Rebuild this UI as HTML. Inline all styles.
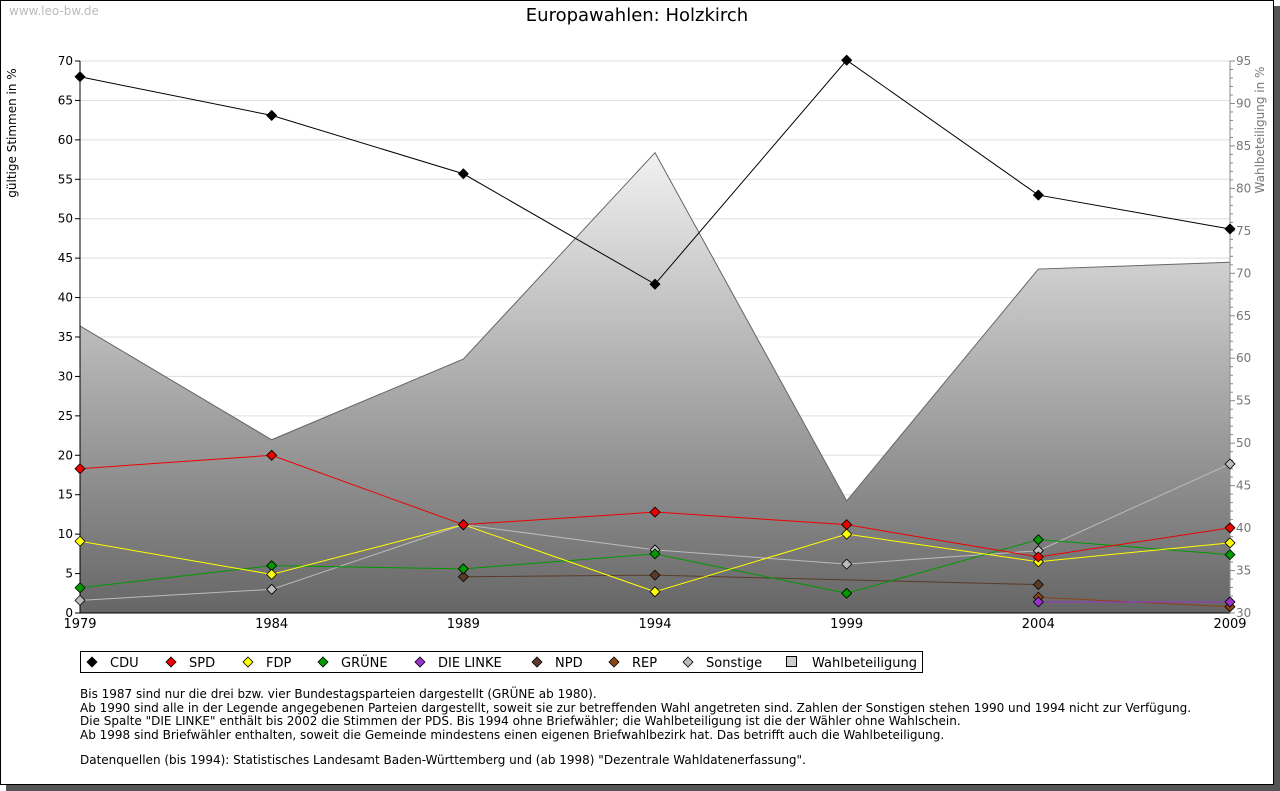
<!DOCTYPE html>
<html><head><meta charset="utf-8"><style>
body{margin:0;background:#fff;font-family:"DejaVu Sans","Liberation Sans",sans-serif}
svg{display:block}
</style></head><body>
<svg width="1280" height="791" xmlns="http://www.w3.org/2000/svg">
<defs><linearGradient id="g" gradientUnits="userSpaceOnUse" x1="0" y1="61" x2="0" y2="613"><stop offset="0" stop-color="#ffffff"/><stop offset="0.15" stop-color="#f4f4f4"/><stop offset="1" stop-color="#666"/></linearGradient></defs>
<rect x="6" y="6" width="1274" height="785" fill="#555"/>
<rect x="0.5" y="0.5" width="1273" height="784" fill="#fff" stroke="#000"/>
<text x="9" y="15" font-size="12" fill="#bbb">www.leo-bw.de</text>
<text x="637" y="21" font-size="18" text-anchor="middle">Europawahlen: Holzkirch</text>
<text transform="translate(16,133) rotate(-90)" font-size="12" text-anchor="middle">gültige Stimmen in %</text>
<text transform="translate(1264,130) rotate(-90)" font-size="12" fill="#777" text-anchor="middle">Wahlbeteiligung in %</text>
<g id="grid"></g><g id="area"></g><g id="axes"></g><g id="series"></g>
<g>
<rect x="80.5" y="651.5" width="842" height="21" fill="#fff" stroke="#000"/>
<g id="legend"></g>
</g>
<g font-size="12">
<text x="80" y="698">Bis 1987 sind nur die drei bzw. vier Bundestagsparteien dargestellt (GRÜNE ab 1980).</text>
<text x="80" y="712">Ab 1990 sind alle in der Legende angegebenen Parteien dargestellt, soweit sie zur betreffenden Wahl angetreten sind. Zahlen der Sonstigen stehen 1990 und 1994 nicht zur Verfügung.</text>
<text x="80" y="725">Die Spalte "DIE LINKE" enthält bis 2002 die Stimmen der PDS. Bis 1994 ohne Briefwähler; die Wahlbeteiligung ist die der Wähler ohne Wahlschein.</text>
<text x="80" y="739">Ab 1998 sind Briefwähler enthalten, soweit die Gemeinde mindestens einen eigenen Briefwahlbezirk hat. Das betrifft auch die Wahlbeteiligung.</text>
<text x="80" y="764">Datenquellen (bis 1994): Statistisches Landesamt Baden-Württemberg und (ab 1998) "Dezentrale Wahldatenerfassung".</text>
</g>
</svg>
<script>
const years=[1979,1984,1989,1994,1999,2004,2009];
const leftTicks=[0,5,10,15,20,25,30,35,40,45,50,55,60,65,70];
const rightTicks=[30,35,40,45,50,55,60,65,70,75,80,85,90,95];
const turnout=[63.8,50.4,59.9,84.2,43.2,70.5,71.3];
const cdu=[68.0,63.1,55.7,41.7,70.1,53.0,48.7];
const spd=[18.3,20.0,11.2,12.8,11.2,7.1,10.8];
const fdp=[9.1,4.9,11.2,2.7,10.0,6.5,8.9];
const gruene=[3.2,6.0,5.6,7.5,2.5,9.3,7.4];
const linke=[null,null,null,null,null,1.4,1.4];
const npd=[null,null,4.6,4.8,null,3.6,null];
const rep=[null,null,null,null,null,2.0,0.8];
const sonstige=[1.6,3.0,11.2,8.0,6.2,7.9,18.9];
const seriesNames=["CDU","SPD","FDP","GRÜNE","DIE LINKE","NPD","REP","Sonstige"];
const seriesColors=["#000","#e00","#ff0","#090","#93c","#5a3a28","#8b4513","#bbb"];
const seriesData=[cdu,spd,fdp,gruene,linke,npd,rep,sonstige];
const NS="http://www.w3.org/2000/svg";
const X0=80,X1=1230,Y0=613,Y1=61;
const x=v=>X0+(v-1979)/(2009-1979)*(X1-X0);
const y=v=>Y0-v/70*(Y0-Y1);
const y2=v=>Y0-(v-30)/65*(Y0-Y1);
function mk(tag,attrs,parent,txt){const e=document.createElementNS(NS,tag);for(const k in attrs)e.setAttribute(k,attrs[k]);if(txt!==undefined)e.textContent=txt;document.getElementById(parent).appendChild(e);return e;}
leftTicks.forEach(t=>{
 const l=mk('line',{x1:X0,x2:X1,y1:y(t),y2:y(t),stroke:'#ddd'},'grid');
 
 
 const tx=mk('text',{x:73,y:y(t)+4,'font-size':12,'text-anchor':'end'},'axes',t);
 
 
 mk('line',{x1:X0-5,x2:X0,y1:y(t),y2:y(t),stroke:'#000'},'axes');
});
let pts=years.map((yr,i)=>x(yr)+','+y2(turnout[i])).join(' ');
const ar=mk('polygon',{points:X0+','+Y0+' '+pts+' '+X1+','+Y0,fill:'url(#g)'},'area');


mk('polyline',{points:pts,fill:'none',stroke:'#666'},'area');
mk('line',{x1:X0,x2:X0,y1:Y1,y2:Y0,stroke:'#000'},'axes');
mk('line',{x1:X0,x2:X1,y1:Y0,y2:Y0,stroke:'#000'},'axes');
mk('line',{x1:X1,x2:X1,y1:Y1,y2:Y0,stroke:'#888'},'axes');
for(let v=30;v<=95;v++){mk('line',{x1:X1,x2:X1+(v%5?3:5),y1:y2(v),y2:y2(v),stroke:'#888'},'axes');}
rightTicks.forEach(t=>{
 const tx=mk('text',{x:1236,y:y2(t)+4,'font-size':12,fill:'#777'},'axes',t);
 
 
});
years.forEach(yr=>{
 const tx=mk('text',{x:x(yr),y:628,'font-size':13,'text-anchor':'middle'},'axes',yr);
 
 
});
const order=[7,6,5,4,3,2,1,0];
order.forEach(si=>{
 const d=seriesData[si],c=seriesColors[si];
 const p=[];years.forEach((yr,i)=>{if(d[i]!==null)p.push([x(yr),y(d[i])]);});
 const pl=mk('polyline',{points:p.map(q=>q.join(',')).join(' '),fill:'none',stroke:c},'series');
 
 
 p.forEach(q=>{
  const m=mk('path',{d:`M${q[0]} ${q[1]-5}L${q[0]+5} ${q[1]}L${q[0]} ${q[1]+5}L${q[0]-5} ${q[1]}Z`,fill:c,stroke:'#000','stroke-width':0.8,'stroke-linejoin':'round'},'series');
  
  
 });
});
const lx=[92,171,248,323,420,537,614,688];
seriesNames.forEach((n,i)=>{
 const q=lx[i];
 const m=mk('path',{d:`M${q} 657L${q+5} 662L${q} 667L${q-5} 662Z`,fill:seriesColors[i],stroke:'#000','stroke-width':0.8},'legend');
 
 
 const t=mk('text',{x:q+18,y:667,'font-size':13},'legend',n);
 
 
});
const sq=mk('rect',{x:786.5,y:656.5,width:10,height:10,fill:'#ccc',stroke:'#000'},'legend');


const wt=mk('text',{x:812,y:667,'font-size':13},'legend','Wahlbeteiligung');


</script>
</body></html>
